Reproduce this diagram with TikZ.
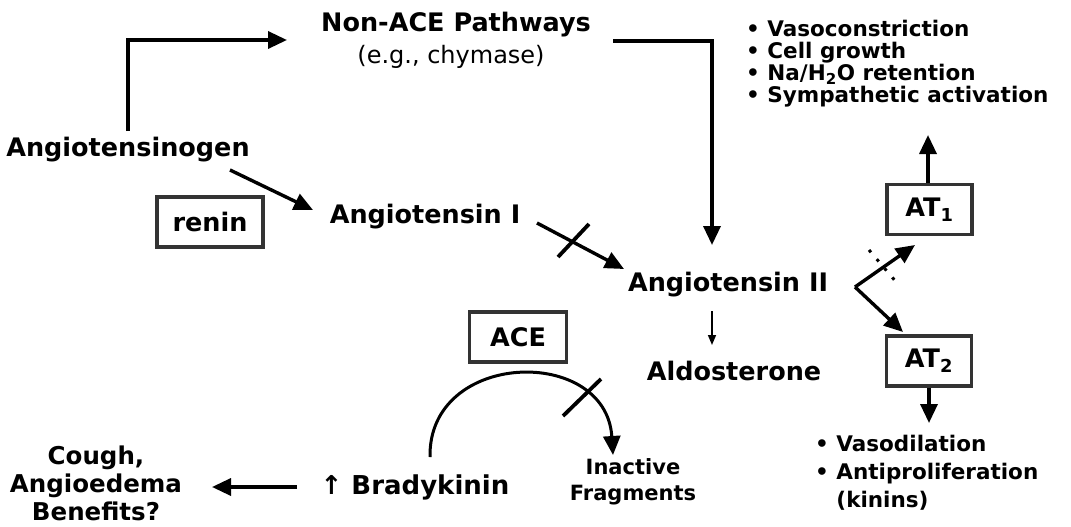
\documentclass[tikz,border=0pt]{standalone}
\usepackage{fontspec}
\setmainfont{DejaVu Sans}
\usetikzlibrary{arrows.meta}
\begin{document}
\begin{tikzpicture}[x=1pt,y=-1pt,
  lbl/.style={font=\bfseries\fontsize{25.5}{29}\selectfont, inner sep=0pt},
  sublbl/.style={font=\fontsize{24}{28}\selectfont, inner sep=0pt},
  midlbl/.style={font=\bfseries\fontsize{24.5}{28}\selectfont, inner sep=0pt, align=center},
  smlbl/.style={font=\bfseries\fontsize{21}{26}\selectfont, inner sep=0pt, align=center},
  boxnode/.style={draw=black!80, line width=3.2pt, fill=white, minimum width=85pt, minimum height=50pt, inner sep=0pt, font=\bfseries\fontsize{25.5}{29}\selectfont},
  arr/.style={line width=3.4pt, -{Triangle[length=19pt,width=17pt]}},
  thinarr/.style={line width=1.6pt, -{Triangle[length=10pt,width=8pt]}},
  crossline/.style={line width=3.8pt}]
\fill[white] (0,0) rectangle (1071,527);
\useasboundingbox (0,0) rectangle (1071,527);

% nodes
\node[lbl] (ang) at (128,150) {Angiotensinogen};
\node[lbl] (nonace) at (456,25) {Non-ACE Pathways};
\node[sublbl] (chym) at (451,57) {(e.g., chymase)};
\node[boxnode, minimum width=106pt] (renin) at (210,222) {renin};
\node[lbl] (ang1) at (425,217) {Angiotensin I};
\node[lbl] (ang2) at (728,285) {Angiotensin II};
\node[lbl] (aldo) at (734,371) {Aldosterone};
\node[boxnode] (at1) at (929.5,209.5) {AT\textsubscript{1}};
\node[boxnode] (at2) at (929,361) {AT\textsubscript{2}};
\node[boxnode, minimum width=97pt] (ace) at (518,337) {ACE};
\node[lbl, font=\bfseries\fontsize{26}{29}\selectfont] (brady) at (415,487) {↑ Bradykinin};
\node[midlbl] (cough) at (96,483) {Cough,\\Angioedema\\Benefits?};
\node[smlbl] (frag) at (633,482) {Inactive\\Fragments};
\node[font=\bfseries\fontsize{21.5}{22}\selectfont, inner sep=0pt, anchor=north west, align=left] (toplist) at (746,20)
  {• Vasoconstriction\\• Cell growth\\• Na/H\textsubscript{2}O retention\\• Sympathetic activation};
\node[font=\bfseries\fontsize{21.5}{28}\selectfont, inner sep=0pt, anchor=north west, align=left] (botlist) at (815,435)
  {• Vasodilation\\• Antiproliferation\\\phantom{• }(kinins)};

% coordinates for connector ends
\coordinate (nonin) at (287,40);
\coordinate (angtop) at (128,131);
\coordinate (nonout) at (613,41);
\coordinate (ang2in) at (712,245);
\coordinate (ang2v) at (855,287);
\coordinate (at1in) at (915,245);
\coordinate (at2in) at (903,332);
\coordinate (a1s) at (537,223);
\coordinate (a1e) at (624,269);
\coordinate (a0s) at (230,170);
\coordinate (a0e) at (313,210);
\coordinate (bradyL) at (297,487);
\coordinate (coughR) at (212,487);

% connectors
\draw[arr] (angtop) |- (nonin);
\draw[arr] (nonout) -| (ang2in);
\draw[arr] (a0s) -- (a0e);
\draw[arr] (a1s) -- (a1e);
\draw[crossline] (558,257) -- (589,224);
\draw[thinarr] (712,311) -- (712,345);
\draw[arr] (ang2v) -- (at1in);
\draw[arr] (ang2v) -- (at2in);
\draw[line width=3pt, dash pattern=on 3pt off 9pt] (869,250) -- (897,283);
\draw[arr] (at1.north -| 928,0) -- (928,135);
\draw[arr] (at2.south) -- (929,423);
\draw[line width=3pt, -{Triangle[length=19pt,width=17pt]}] (430,457) .. controls (428,350) and (606,345) .. (613,455);
\draw[crossline] (563,416) -- (601,379);
\draw[arr] (bradyL) -- (coughR);
\end{tikzpicture}
\end{document}
